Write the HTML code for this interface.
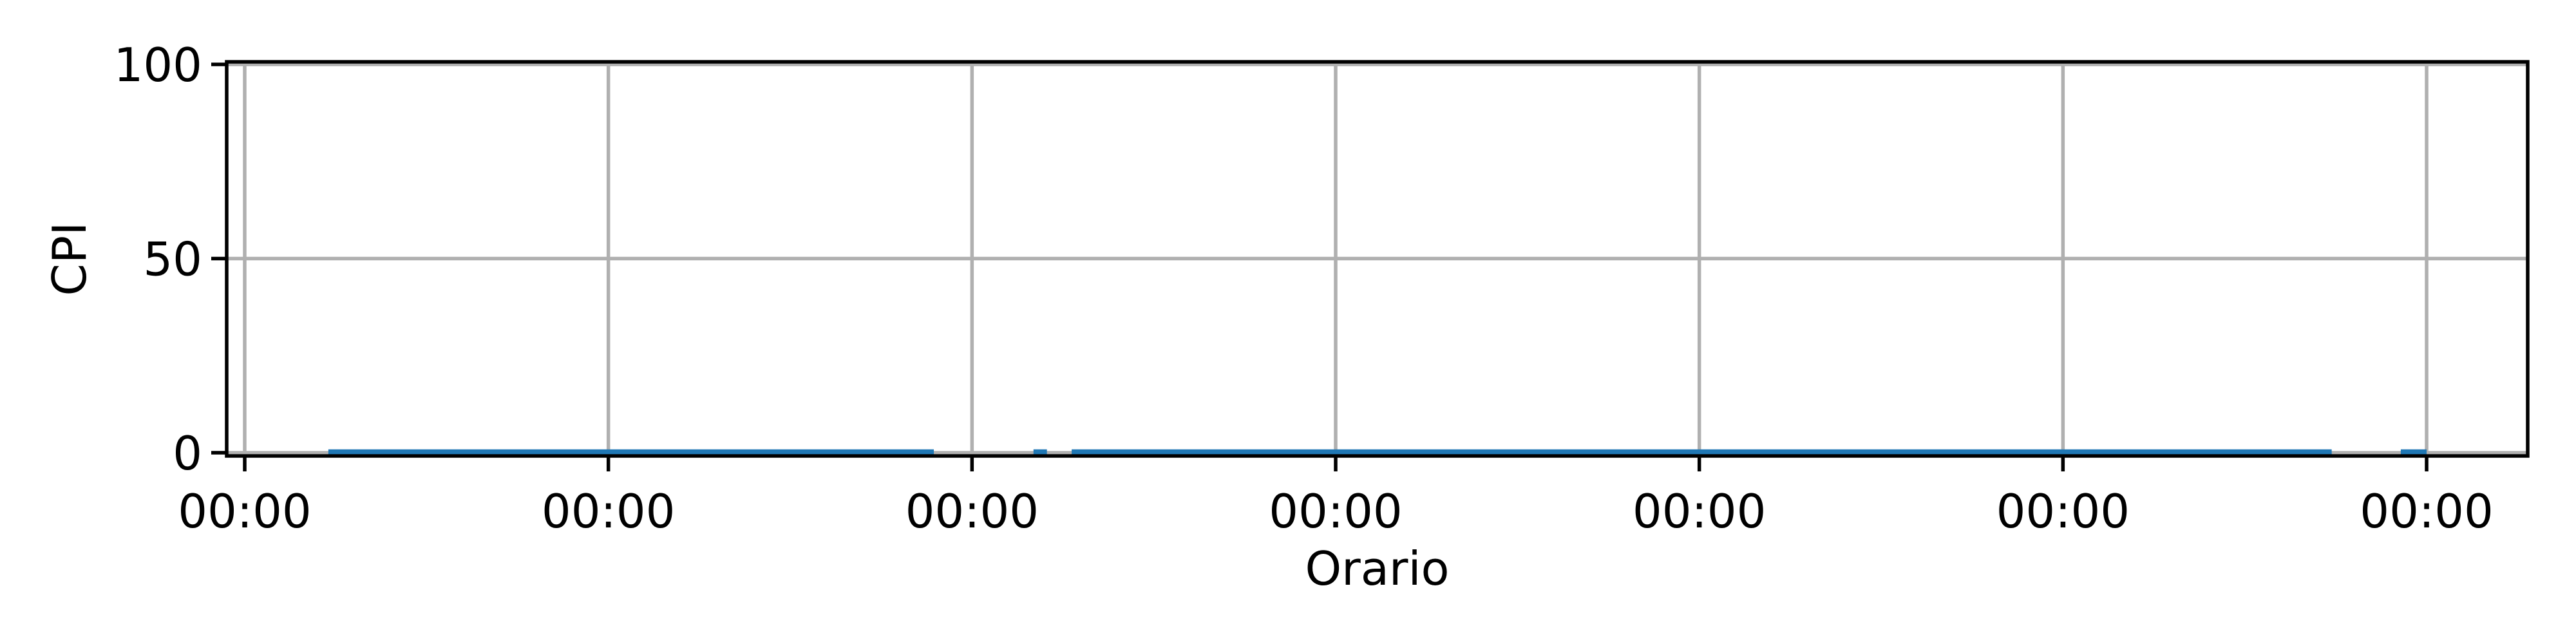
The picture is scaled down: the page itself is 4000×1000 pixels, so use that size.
<!DOCTYPE html>
<html><head><meta charset="utf-8"><style>
html,body{margin:0;padding:0;background:#fff;}
svg{display:block;}
text{font-family:"DejaVu Sans","Liberation Sans",sans-serif;fill:#000;}
</style></head><body>
<svg id="chart" width="4000" height="1000" viewBox="0 0 4000 1000" xmlns="http://www.w3.org/2000/svg">
<rect x="0" y="0" width="4000" height="1000" fill="#fff"/>
<g id="grid"></g>
<g id="series"></g>
<g id="axes"></g>
</svg>
<script>
// data
const xTickValues = [0, 1, 2, 3, 4, 5, 6];
const xTickLabels = ["00:00", "00:00", "00:00", "00:00", "00:00", "00:00", "00:00"];
const yTickValues = [0, 50, 100];
const yTickLabels = ["0", "50", "100"];
const segStarts = [0.23, 2.169, 2.274, 5.929];
const segEnds = [1.895, 2.206, 5.739, 6.0];
const segValues = [0, 0, 0, 0];

const NS = "http://www.w3.org/2000/svg";
const L = 352, R = 3925, T = 96, B = 708;
const xMin = -0.0496, xMax = 6.278;
const FS = 72;
function xs(v){ return L + (v - xMin) / (xMax - xMin) * (R - L); }
function ys(v){ return 703 - v * 6.03; }
function mk(tag, attrs, parent){
  const e = document.createElementNS(NS, tag);
  for (const k in attrs) e.setAttribute(k, attrs[k]);
  parent.appendChild(e);
  return e;
}
const grid = document.getElementById('grid');
const series = document.getElementById('series');
const axes = document.getElementById('axes');

xTickValues.forEach((v, i) => {
  const x = xs(v);
  const g = mk('line', {x1:x, x2:x, y1:T, y2:B, stroke:'#b0b0b0', 'stroke-width':5.5}, grid);
  
  
  const t = mk('line', {x1:x, x2:x, y1:B, y2:B+24, stroke:'#000', 'stroke-width':5.5}, axes);
  
  
  const lb = mk('text', {x:x, y:819, 'font-size':FS, 'text-anchor':'middle'}, axes);
  lb.textContent = xTickLabels[i];
  
  
});
yTickValues.forEach((v, i) => {
  const y = ys(v);
  const g = mk('line', {x1:L, x2:R, y1:y, y2:y, stroke:'#b0b0b0', 'stroke-width':5.5}, grid);
  
  
  const t = mk('line', {x1:L-24, x2:L, y1:y, y2:y, stroke:'#000', 'stroke-width':5.5}, axes);
  
  
  const lb = mk('text', {x:L-38, y:y+26, 'font-size':FS, 'text-anchor':'end'}, axes);
  lb.textContent = yTickLabels[i];
  
  
});
segStarts.forEach((s, i) => {
  const y = ys(segValues[i]);
  const ln = mk('line', {x1:xs(s), x2:xs(segEnds[i]), y1:y, y2:y, stroke:'#1f77b4', 'stroke-width':10.4}, series);
  
  
});
const frame = mk('rect', {x:L, y:T, width:R-L, height:B-T, fill:'none', stroke:'#000', 'stroke-width':5.5}, axes);


const xt = mk('text', {x:(L+R)/2, y:908, 'font-size':FS, 'text-anchor':'middle'}, axes);
xt.textContent = 'Orario';


const yt = mk('text', {x:0, y:0, 'font-size':FS, 'text-anchor':'middle', transform:'translate(133,402) rotate(-90)'}, axes);
yt.textContent = 'CPI';


</script>
</body></html>
